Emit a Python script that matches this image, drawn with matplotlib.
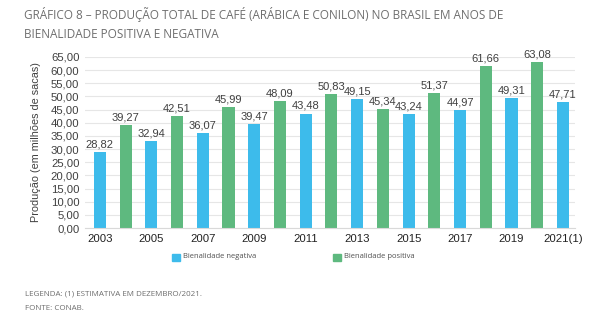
import matplotlib.pyplot as plt
import numpy as np

# Dados (milhões de sacas)
anos = ['2003', '2004', '2005', '2006', '2007', '2008', '2009', '2010', '2011', '2012',
        '2013', '2014', '2015', '2016', '2017', '2018', '2019', '2020', '2021(1)']
producao = [28.82, 39.27, 32.94, 42.51, 36.07, 45.99, 39.47, 48.09, 43.48, 50.83,
            49.15, 45.34, 43.24, 51.37, 44.97, 61.66, 49.31, 63.08, 47.71]
bienalidade = ['neg', 'pos', 'neg', 'pos', 'neg', 'pos', 'neg', 'pos', 'neg', 'pos',
               'neg', 'pos', 'neg', 'pos', 'neg', 'pos', 'neg', 'pos', 'neg']

azul = '#3DBBEB'
verde = '#5EB97F'
cinza_txt = '#404040'

plt.rcParams['font.family'] = ['Liberation Sans', 'DejaVu Sans']

fig = plt.figure(figsize=(6, 3.31), dpi=100)
ax = fig.add_axes([85 / 600, 1 - 228 / 331, 490 / 600, 171 / 331])

x = np.arange(len(anos))
cores = [azul if b == 'neg' else verde for b in bienalidade]
ax.bar(x, producao, width=0.47, color=cores, zorder=2)

for xi, v in zip(x, producao):
    ax.text(xi, v + 1.0, f'{v:.2f}'.replace('.', ','), ha='center', va='bottom',
            fontsize=8, color=cinza_txt)

ax.set_ylim(0, 65)
ax.set_xlim(-0.58, 18.47)
yt = np.arange(0, 66, 5)
ax.set_yticks(yt)
ax.set_yticklabels([f'{t:.2f}'.replace('.', ',') for t in yt], fontsize=8.2, color=cinza_txt)
ax.set_xticks(x[::2])
ax.set_xticklabels(anos[::2], fontsize=8.2, color='#222222')
ax.tick_params(length=0, pad=4)
ax.grid(axis='y', color='#E6E6E6', linewidth=0.8, zorder=0)
for s in ['top', 'right', 'left']:
    ax.spines[s].set_visible(False)
ax.spines['bottom'].set_color('#D9D9D9')
ax.set_ylabel('Produção (em milhões de sacas)', fontsize=7.8, color=cinza_txt, labelpad=7)

# Legenda
fig.patches.append(plt.Rectangle((172 / 600, 1 - 261 / 331), 8 / 600, 7 / 331,
                                 transform=fig.transFigure, color=azul))
fig.text(183 / 600, 1 - 257 / 331, 'Bienalidade negativa', fontsize=5.5,
         color='#505050', va='center', family=['Open Sans'])
fig.patches.append(plt.Rectangle((333 / 600, 1 - 261 / 331), 8 / 600, 7 / 331,
                                 transform=fig.transFigure, color=verde))
fig.text(344 / 600, 1 - 257 / 331, 'Bienalidade positiva', fontsize=5.5,
         color='#505050', va='center', family=['Open Sans'])

# Título
fig.text(24 / 600, 1 - 15 / 331,
         'GRÁFICO 8 – PRODUÇÃO TOTAL DE CAFÉ (ARÁBICA E CONILON) NO BRASIL EM ANOS DE',
         fontsize=8.5, color='#6E6E6E', va='center', family=['Open Sans'])
fig.text(24 / 600, 1 - 34 / 331, 'BIENALIDADE POSITIVA E NEGATIVA',
         fontsize=8.5, color='#6E6E6E', va='center', family=['Open Sans'])

# Rodapé
fig.text(25 / 600, 1 - 294 / 331, 'LEGENDA: (1) ESTIMATIVA EM DEZEMBRO/2021.',
         fontsize=5.8, color='#6E6E6E', va='center', family=['Open Sans'])
fig.text(25 / 600, 1 - 308 / 331, 'FONTE: CONAB.',
         fontsize=5.8, color='#6E6E6E', va='center', family=['Open Sans'])

fig.savefig('out.png', dpi=100)
